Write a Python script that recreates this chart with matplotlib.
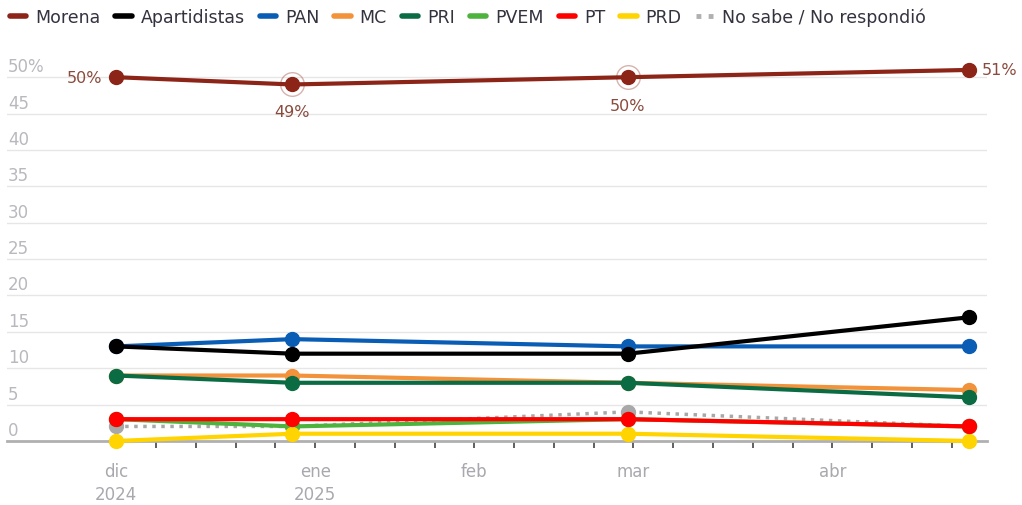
import numpy as np
import pandas as pd
import matplotlib
matplotlib.use("Agg")
import matplotlib.pyplot as plt
from matplotlib.lines import Line2D
from matplotlib.ticker import FixedLocator
from matplotlib.transforms import ScaledTranslation
import matplotlib.dates as mdates

# Poll dates and values (%)
dates = pd.to_datetime(["2024-12-02", "2025-01-02", "2025-03-02", "2025-05-01"])
morena = [50, 49, 50, 51]
apartidistas = [13, 12, 12, 17]
pan = [13, 14, 13, 13]
mc = [9, 9, 8, 7]
pri = [9, 8, 8, 6]
pvem = [3, 2, 3, 2]
pt = [3, 3, 3, 2]
prd = [0, 1, 1, 0]
no_sabe = [2, 2, 4, 2]

series = [
    # name, values, color, zorder
    ("Morena", morena, "#8c2418", 20),
    ("Apartidistas", apartidistas, "#000000", 18),
    ("PAN", pan, "#0a5db5", 14),
    ("MC", mc, "#f2923a", 12),
    ("PRI", pri, "#0b6c44", 16),
    ("PVEM", pvem, "#4db33d", 11),
    ("PT", pt, "#ff0000", 15),
    ("PRD", prd, "#ffd400", 13),
]

y_ticks = [0, 5, 10, 15, 20, 25, 30, 35, 40, 45, 50]
y_labels = ["0", "5", "10", "15", "20", "25", "30", "35", "40", "45", "50%"]
x_major = pd.to_datetime(["2024-12-02", "2025-01-06", "2025-02-03", "2025-03-03", "2025-04-07"])
x_labels = ["dic\n2024", "ene\n2025", "feb", "mar", "abr"]
x_weeks = pd.date_range("2024-12-02", "2025-04-28", freq="7D")

fig = plt.figure(figsize=(10.22, 5.06), dpi=100)
ax = fig.add_axes([0.00685, 0.1265, 0.9590, 0.7549])

for name, vals, col, z in series:
    ax.plot(dates, vals, color=col, lw=3, marker="o", ms=10, zorder=z,
            clip_on=False, solid_capstyle="round")
ax.plot(dates, no_sabe, color="#a8a8a8", lw=2.5, ls=(0, (1, 1.6)), marker="o",
        ms=10, zorder=10, clip_on=False)

# halo on labelled points
ax.plot(dates[1:3], morena[1:3], ls="none", marker="o", ms=17, mfc="none",
        mec="#8c2418", mew=1, alpha=0.35, zorder=21, clip_on=False)

lab_col = "#8a4a3c"
ax.annotate("50%", (dates[0], morena[0]), xytext=(-10, 0), textcoords="offset points",
            ha="right", va="center", fontsize=11.5, color=lab_col)
ax.annotate("49%", (dates[1], morena[1]), xytext=(0, -19.5), textcoords="offset points",
            ha="center", va="center", fontsize=11.5, color=lab_col)
ax.annotate("50%", (dates[2], morena[2]), xytext=(0, -20.5), textcoords="offset points",
            ha="center", va="center", fontsize=11.5, color=lab_col)
ax.annotate("51%", (dates[3], morena[3]), xytext=(9, 0), textcoords="offset points",
            ha="left", va="center", fontsize=11.5, color=lab_col)

ax.set_xlim(dates[0] - pd.Timedelta(days=19.2), dates[0] + pd.Timedelta(days=153.2))
ax.set_ylim(0, 52.5)

ax.set_yticks(y_ticks)
ax.set_yticklabels(y_labels)
ax.tick_params(axis="y", length=0, pad=0, labelsize=12, labelcolor="#b8b8be")
off = ScaledTranslation(1 / 100, 13 / 100, fig.dpi_scale_trans)
for lbl in ax.get_yticklabels():
    lbl.set_horizontalalignment("left")
    lbl.set_transform(lbl.get_transform() + off)
for v in y_ticks[1:]:
    ax.axhline(v, color="#e6e6e6", lw=1, zorder=1)

ax.set_xticks(x_major)
ax.set_xticklabels(x_labels)
ax.xaxis.set_minor_locator(FixedLocator(mdates.date2num(x_weeks)))
ax.tick_params(axis="x", which="both", length=5, width=1.2, color="#444444",
               direction="out", pad=10)
ax.tick_params(axis="x", which="major", labelsize=12, labelcolor="#a8a8ae")
for lbl in ax.get_xticklabels():
    lbl.set_linespacing(1.4)

for s in ["top", "right", "left"]:
    ax.spines[s].set_visible(False)
ax.spines["bottom"].set_color("#b0b0b0")
ax.spines["bottom"].set_linewidth(2)
ax.spines["bottom"].set_zorder(2)

handles = [Line2D([0], [0], color=c, lw=4, solid_capstyle="round") for _, _, c, _ in series]
handles.append(Line2D([0], [0], color="#b0b0b0", lw=3.5, ls=(0, (1, 1.5))))
names = [s[0] for s in series] + ["No sabe / No respondió"]
fig.legend(handles, names, loc="upper left", bbox_to_anchor=(0.001, 1.0), ncol=9,
           frameon=False, fontsize=12.5, handlelength=0.95, handletextpad=0.5,
           columnspacing=0.87, borderaxespad=0.1, labelcolor="#333340")

fig.savefig("out.png", dpi=100)
